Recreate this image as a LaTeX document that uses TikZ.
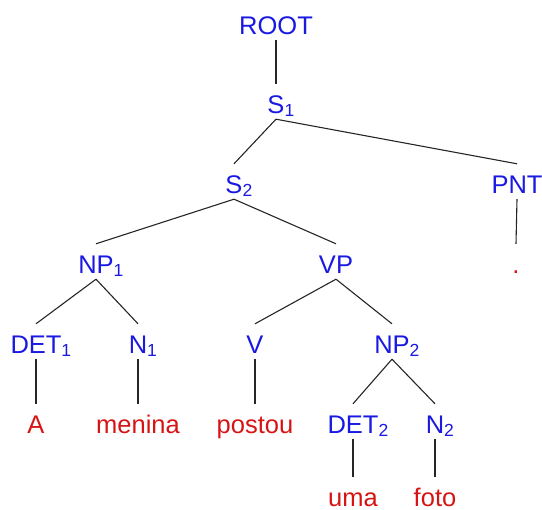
\documentclass[tikz,border=0pt]{standalone}
\usepackage{fontspec}
\setmainfont{Liberation Sans}
\definecolor{lblblue}{RGB}{25,25,225}
\definecolor{lfred}{RGB}{215,20,20}
\newcommand\subn[1]{\rlap{\raisebox{-3pt}{\fontsize{17.5}{18}\selectfont #1}}}
\begin{document}
\begin{tikzpicture}[x=1pt,y=-1pt,
  lbl/.style={anchor=base,inner sep=0pt,text height=30pt,text depth=5pt,font=\fontsize{25.5}{30}\selectfont},
  cat/.style={lbl,text=lblblue},
  word/.style={lbl,text=lfred},
  bottomword/.style={word,text depth=0pt},
  edge/.style={draw=black!85,line width=1.1pt}]
\useasboundingbox (0,0) rectangle (542,510);
\node[cat] (root) at (276,35) {ROOT};
\node[cat] (s1) at (276,114) {S\subn{1}};
\node[cat] (s2) at (234,194) {S\subn{2}};
\node[cat] (pnt) at (517,194) {PNT};
\node[cat] (np1) at (96,274) {NP\subn{1}};
\node[cat] (vp) at (336,274) {VP};
\node[word] (dot) at (516,274) {.};
\node[cat] (det1) at (36,354) {DET\subn{1}};
\node[cat] (n1) at (138,354) {N\subn{1}};
\node[cat] (v) at (255,354) {V};
\node[cat] (np2) at (392,354) {NP\subn{2}};
\node[word] (a) at (36,434) {A};
\node[word] (menina) at (138,434) {menina};
\node[word] (postou) at (255,434) {postou};
\node[cat] (det2) at (353,434) {DET\subn{2}};
\node[cat] (n2) at (435,434) {N\subn{2}};
\node[bottomword] (uma) at (353,507) {uma};
\node[bottomword] (foto) at (435,507) {foto};
\draw[edge] (root.south) -- (s1.north);
\draw[edge] (s1.south) -- (s2.north);
\draw[edge] (s1.south) -- (pnt.north);
\draw[edge] (s2.south) -- (np1.north);
\draw[edge] (s2.south) -- (vp.north);
\draw[edge] (pnt.south) -- (dot.north);
\draw[edge] (np1.south) -- (det1.north);
\draw[edge] (np1.south) -- (n1.north);
\draw[edge] (vp.south) -- (v.north);
\draw[edge] (vp.south) -- (np2.north);
\draw[edge] (det1.south) -- (a.north);
\draw[edge] (n1.south) -- (menina.north);
\draw[edge] (v.south) -- (postou.north);
\draw[edge] (np2.south) -- (det2.north);
\draw[edge] (np2.south) -- (n2.north);
\draw[edge] (det2.south) -- (uma.north);
\draw[edge] (n2.south) -- (foto.north);
\end{tikzpicture}
\end{document}
